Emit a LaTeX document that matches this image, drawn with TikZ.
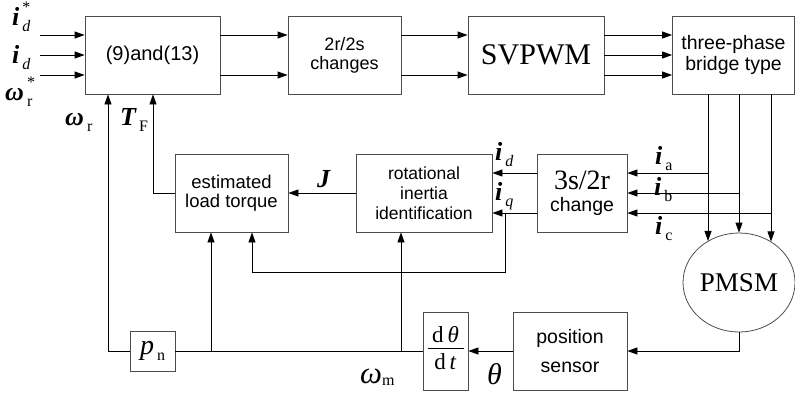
\documentclass[tikz,border=0pt]{standalone}
\usepackage{fontspec}
\setmainfont{Liberation Sans}
\newfontfamily\tnr{Liberation Serif}
\usepackage{tikz}
\usetikzlibrary{arrows.meta, shapes.geometric}

\newcommand{\sgl}[2]{#1\hspace{3pt}\raisebox{-6pt}{\fontsize{16}{16}\selectfont\mdseries #2}}
\newcommand{\sglref}[2]{#1\hspace{3pt}\rlap{\raisebox{13pt}{\fontsize{16}{16}\selectfont\mdseries\upshape *}}\raisebox{-6pt}{\fontsize{16}{16}\selectfont\mdseries #2}}

\tikzset{
  blk/.style={draw=black!70, line width=0.8pt, inner sep=0pt, align=center, minimum height=78pt, font=\fontsize{19}{21}\selectfont},
  sig/.style={inner sep=0pt, anchor=base west, font=\tnr\fontsize{26}{26}\selectfont\bfseries\itshape},
  arr/.style={line width=0.8pt, -{Triangle[length=10pt,width=7pt]}},
  wire/.style={line width=0.8pt}
}

\begin{document}
\begin{tikzpicture}[x=1pt, y=-1pt]
\useasboundingbox (0,0) rectangle (795,392);
% top row
\node[blk, minimum width=135pt, font=\fontsize{20}{22}\selectfont] (eq) at (152.5,55) {(9)and(13)};
\node[blk, minimum width=113pt, font=\fontsize{18}{19}\selectfont] (conv) at (344.5,55) {2r/2s\\changes};
\node[blk, minimum width=136pt, font=\tnr\fontsize{30}{30}\selectfont] (svpwm) at (536,55) {SVPWM};
\node[blk, minimum width=122pt, font=\fontsize{19.5}{21}\selectfont] (bridge) at (733.5,55) {three-phase\\bridge type};
% middle row
\node[blk, minimum width=113pt, font=\fontsize{18.5}{19}\selectfont] (est) at (231.5,193) {estimated\\load torque};
\node[blk, minimum width=136pt, font=\fontsize{17.5}{20}\selectfont] (rii) at (424,193) {rotational\\inertia\\identification};
\node[blk, minimum width=90pt, font=\fontsize{19.5}{19.5}\selectfont] (tr) at (582,193) {{\tnr\fontsize{28}{28}\selectfont 3s/2r}\\[2pt]change};
\node[draw=black!70, line width=0.8pt, ellipse, inner sep=0pt, minimum width=112pt, minimum height=99pt, font=\tnr\fontsize{27}{27}\selectfont] (pmsm) at (739,282.5) {PMSM};
% bottom row
\node[blk, minimum width=114pt, font=\fontsize{19.5}{29}\selectfont] (sensor) at (570,351) {position\\sensor};
\node[blk, minimum width=45pt, font=\tnr\fontsize{23}{24}\selectfont] (deriv) at (445.5,351) {\begin{tabular}{@{}c@{}}\makebox[36pt]{d\,\textit{θ}}\\[-1pt]\hline\rule{0pt}{21pt}d\,\textit{t}\end{tabular}};
\node[blk, minimum width=45pt, minimum height=40pt, font=\tnr\fontsize{28}{28}\selectfont\itshape] (pn) at (152.5,351) {\sgl{p}{\upshape n}};

% inputs
\coordinate (in1) at (40,35); \coordinate (in2) at (40,55); \coordinate (in3) at (40,75);
\foreach \c in {in1,in2,in3} { \draw[arr] (\c) -- (\c -| eq.west); }
\foreach \dy in {20,-20} {
  \draw[arr] ([yshift=\dy pt]eq.east) -- ([yshift=\dy pt]conv.west);
  \draw[arr] ([yshift=\dy pt]conv.east) -- ([yshift=\dy pt]svpwm.west);
}
\foreach \dy in {20,0,-20} { \draw[arr] ([yshift=\dy pt]svpwm.east) -- ([yshift=\dy pt]bridge.west); }

% bridge to motor and current sensing
\coordinate (ta) at (708,94); \coordinate (tb) at (739,94); \coordinate (tc) at (771,94);
\draw[arr] (ta) -- (ta |- pmsm.127);
\draw[arr] (tb) -- (pmsm.north);
\draw[arr] (tc) -- (tc |- pmsm.52);
\coordinate (ja) at (708,173); \coordinate (jb) at (739,193); \coordinate (jc) at (771,213);
\foreach \c in {ja,jb,jc} { \draw[arr] (\c) -- (\c -| tr.east); }

% currents and inertia
\draw[arr] ([yshift=20pt]tr.west) -- ([yshift=20pt]rii.east);
\draw[arr] ([yshift=-20pt]tr.west) -- ([yshift=-20pt]rii.east);
\coordinate (jq) at (505,213); \coordinate (lq) at (505,272);
\draw[arr] (jq) -- (lq) -| ([xshift=20.5pt]est.south);
\draw[arr] (rii.west) -- (est.east);
\draw[arr] (est.west) -| ([xshift=0.5pt]eq.south);

% speed feedback
\draw[arr] (pmsm.south) |- (sensor.east);
\draw[arr] (sensor.west) -- (deriv.east);
\draw[wire] (deriv.west) -- (pn.east);
\draw[arr] (pn.west) -| ([xshift=-44.5pt]eq.south);
\coordinate (jw1) at (211,351); \coordinate (jw2) at (401,351);
\draw[arr] (jw1) -- (jw1 |- est.south);
\draw[arr] (jw2) -- (jw2 |- rii.south);

% labels
\node[sig] (l-idr) at (12,25) {\sglref{i}{d}};
\node[sig] (l-id) at (12,63) {\sgl{i}{d}};
\node[sig] (l-wrr) at (5,100) {\sglref{ω}{\upshape r}};
\node[sig] (l-wr) at (65,125) {\sgl{ω}{\upshape r}};
\node[sig] (l-tf) at (120,125) {\sgl{T}{\upshape F}};
\node[sig] (l-j) at (317,187) {J};
\node[sig] (l-id2) at (495,160) {\sgl{i}{d}};
\node[sig] (l-iq) at (495,200) {\sgl{i}{q}};
\node[sig] (l-ia) at (655,164) {\sgl{i}{\upshape a}};
\node[sig] (l-ib) at (654,195) {\sgl{i}{\upshape b}};
\node[sig] (l-ic) at (655,234) {\sgl{i}{\upshape c}};
\node[sig, font=\tnr\fontsize{31}{31}\selectfont\itshape] (l-wm) at (360,383) {ω\raisebox{-2pt}{\fontsize{16}{16}\selectfont\upshape m}};
\node[sig, font=\tnr\fontsize{30}{30}\selectfont\itshape] (l-th) at (487,384) {θ};
\end{tikzpicture}
\end{document}
